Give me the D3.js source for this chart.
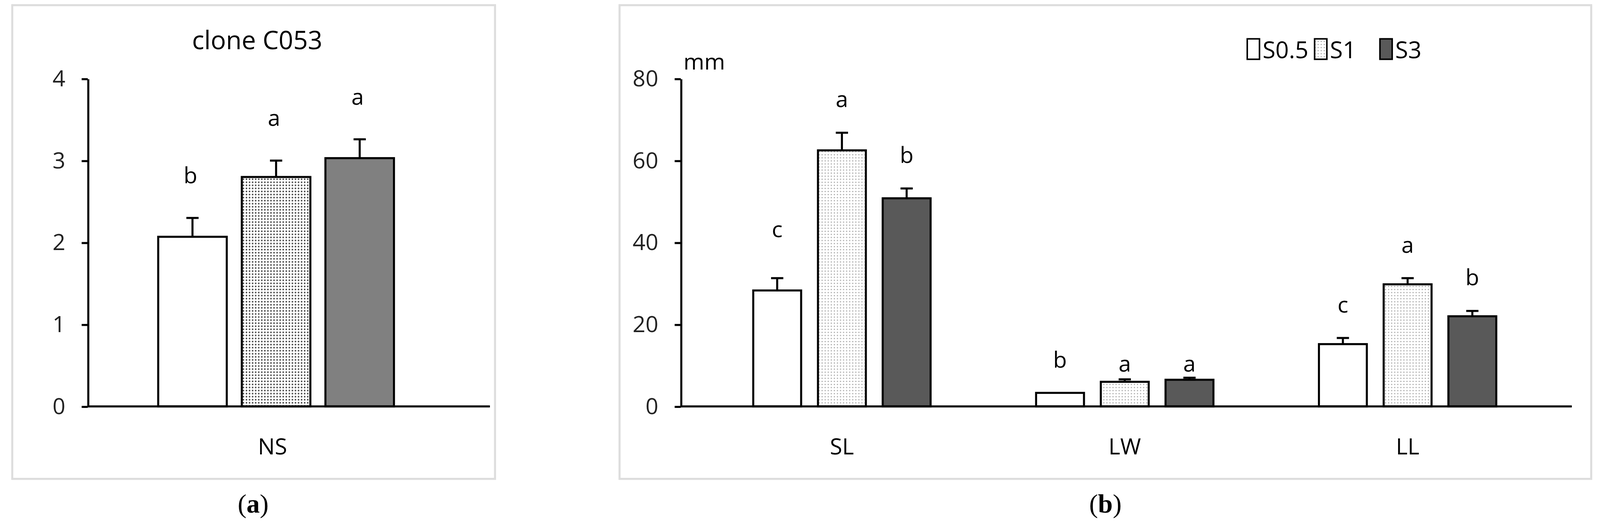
<!DOCTYPE html>
<html><head><meta charset="utf-8">
<script src="https://cdn.jsdelivr.net/npm/d3@7.9.0/dist/d3.min.js"></script>
<style>body{margin:0;background:#fff}svg{display:block}</style>
</head><body>
<script>
// panel a
const seriesNames = ["S0.5", "S1", "S3"];
const aValues = [2.07, 2.8, 3.03];
const aErrors = [0.23, 0.2, 0.23];
const aLetters = ["b", "a", "a"];
const aTicks = [0, 1, 2, 3, 4];
// panel b
const bCategories = ["SL", "LW", "LL"];
const bValues = [[28.3, 62.5, 50.8], [3.3, 6.0, 6.5], [15.2, 29.8, 22.0]];
const bErrors = [[3.0, 4.3, 2.4], [0, 0.6, 0.5], [1.5, 1.5, 1.3]];
const bLetters = [["c", "a", "b"], ["b", "a", "a"], ["c", "a", "b"]];
const bTicks = [0, 20, 40, 60, 80];

const font = "'Open Sans', 'Noto Sans', sans-serif";
const svg = d3.select("body").append("svg")
    .attr("width", 4097).attr("height", 1359)
    .attr("viewBox", "0 0 1568 520");

const defs = svg.append("defs");
const pat = defs.append("pattern").attr("id", "dots")
    .attr("patternUnits", "userSpaceOnUse").attr("width", 3).attr("height", 3);
pat.append("rect").attr("width", 3).attr("height", 3).attr("fill", "#fff");
pat.append("circle").attr("cx", 1.5).attr("cy", 1.5).attr("r", 0.8).attr("fill", "#444");
const patB = defs.append("pattern").attr("id", "dotsB")
    .attr("patternUnits", "userSpaceOnUse").attr("width", 3).attr("height", 3);
patB.append("rect").attr("width", 3).attr("height", 3).attr("fill", "#fff");
patB.append("circle").attr("cx", 1.5).attr("cy", 1.5).attr("r", 0.6).attr("fill", "#999");

// frames
svg.append("rect").attr("x", 12).attr("y", 5).attr("width", 473).attr("height", 464)
    .attr("fill", "none").attr("stroke", "#ddd").attr("stroke-width", 2);
svg.append("rect").attr("x", 607).attr("y", 5).attr("width", 952).attr("height", 464)
    .attr("fill", "none").attr("stroke", "#ddd").attr("stroke-width", 2);

function yAxis(g, y, ticks) {
    g.call(d3.axisLeft(y).tickValues(ticks).tickFormat(d3.format("d")).tickSize(6).tickPadding(16).tickSizeOuter(0))
        .call(s => s.select(".domain").attr("stroke", "#000").attr("stroke-width", 2))
        .call(s => s.selectAll(".tick line").attr("stroke-width", 2))
        .call(s => s.selectAll("text").attr("font-family", font).attr("font-size", 22).attr("fill", "#222"));
}

function errBar(g, x, yTop, yErr) {
    g.append("line").attr("x1", x).attr("x2", x).attr("y1", yTop).attr("y2", yErr)
        .attr("stroke", "#000").attr("stroke-width", 2);
    g.append("line").attr("x1", x - 6).attr("x2", x + 6).attr("y1", yErr).attr("y2", yErr)
        .attr("stroke", "#000").attr("stroke-width", 2);
}

// ---- panel a
const ya = d3.scaleLinear().domain([0, 4]).range([398, 77]);
const xa = d3.scaleBand().domain(seriesNames).range([155, 386]).paddingInner(0.18);
const fillsA = ["#fff", "url(#dots)", "#808080"];
const ga = svg.append("g");
yAxis(ga.append("g").attr("transform", "translate(86,0)"), ya, aTicks);
aValues.forEach((v, i) => {
    const x = xa(seriesNames[i]), w = xa.bandwidth();
    errBar(ga, x + w / 2, ya(v), ya(v + aErrors[i]));
    ga.append("rect").attr("x", x).attr("y", ya(v)).attr("width", w).attr("height", ya(0) - ya(v))
        .attr("fill", fillsA[i]).attr("stroke", "#000").attr("stroke-width", 2);
    ga.append("text").attr("x", x + w / 2 - 2).attr("y", ya(v + aErrors[i]) - 34)
        .attr("text-anchor", "middle").attr("font-family", font).attr("font-size", 22).text(aLetters[i]);
});
ga.append("line").attr("x1", 86).attr("x2", 480).attr("y1", ya(0)).attr("y2", ya(0))
    .attr("stroke", "#000").attr("stroke-width", 2);
ga.append("text").attr("x", 267).attr("y", 445).attr("text-anchor", "middle")
    .attr("font-family", font).attr("font-size", 22).text("NS");
ga.append("text").attr("x", 252).attr("y", 48).attr("text-anchor", "middle")
    .attr("font-family", font).attr("font-size", 25).text("clone C053");
ga.append("text").attr("x", 248).attr("y", 502).attr("text-anchor", "middle")
    .attr("font-family", "'Liberation Serif', serif").attr("font-size", 26)
    .html("(<tspan font-weight='bold'>a</tspan>)");

// ---- panel b
const yb = d3.scaleLinear().domain([0, 80]).range([398, 77]);
const xb = d3.scaleBand().domain(bCategories).range([738, 1466]).paddingInner(0.373).paddingOuter(0);
const xs = d3.scaleBand().domain(seriesNames).range([0, xb.bandwidth()]).paddingInner(0.26);
const fillsB = ["#fff", "url(#dotsB)", "#595959"];
const gb = svg.append("g");
yAxis(gb.append("g").attr("transform", "translate(667,0)"), yb, bTicks);
bCategories.forEach((c, ci) => {
    bValues[ci].forEach((v, i) => {
        const x = xb(c) + xs(seriesNames[i]), w = xs.bandwidth();
        const e = bErrors[ci][i];
        if (e > 0) errBar(gb, x + w / 2, yb(v), yb(v + e));
        gb.append("rect").attr("x", x).attr("y", yb(v)).attr("width", w).attr("height", yb(0) - yb(v))
            .attr("fill", fillsB[i]).attr("stroke", "#000").attr("stroke-width", 2);
        const ly = ci === 1 ? yb(0) - 34 - (i === 0 ? 4 : 0)
            : (ci === 0 && i === 0) ? yb(v + e) - 40 : yb(v + e) - 25;
        gb.append("text").attr("x", x + w / 2).attr("y", ly)
            .attr("text-anchor", "middle").attr("font-family", font).attr("font-size", 22).text(bLetters[ci][i]);
    });
    gb.append("text").attr("x", xb(c) + xb.bandwidth() / 2).attr("y", 445).attr("text-anchor", "middle")
        .attr("font-family", font).attr("font-size", 22).text(c);
});
gb.append("line").attr("x1", 667).attr("x2", 1540).attr("y1", yb(0)).attr("y2", yb(0))
    .attr("stroke", "#000").attr("stroke-width", 2);
gb.append("text").attr("x", 690).attr("y", 68).attr("text-anchor", "middle")
    .attr("font-family", font).attr("font-size", 22).text("mm");
// legend
const legX = [1222, 1288, 1352];
seriesNames.forEach((s, i) => {
    gb.append("rect").attr("x", legX[i]).attr("y", 38).attr("width", 12).attr("height", 20)
        .attr("fill", fillsB[i]).attr("stroke", "#000").attr("stroke-width", 1.5);
    gb.append("text").attr("x", legX[i] + 15).attr("y", 57).attr("font-family", font)
        .attr("font-size", 23).text(s);
});
gb.append("text").attr("x", 1083).attr("y", 502).attr("text-anchor", "middle")
    .attr("font-family", "'Liberation Serif', serif").attr("font-size", 26)
    .html("(<tspan font-weight='bold'>b</tspan>)");
</script>
</body></html>
